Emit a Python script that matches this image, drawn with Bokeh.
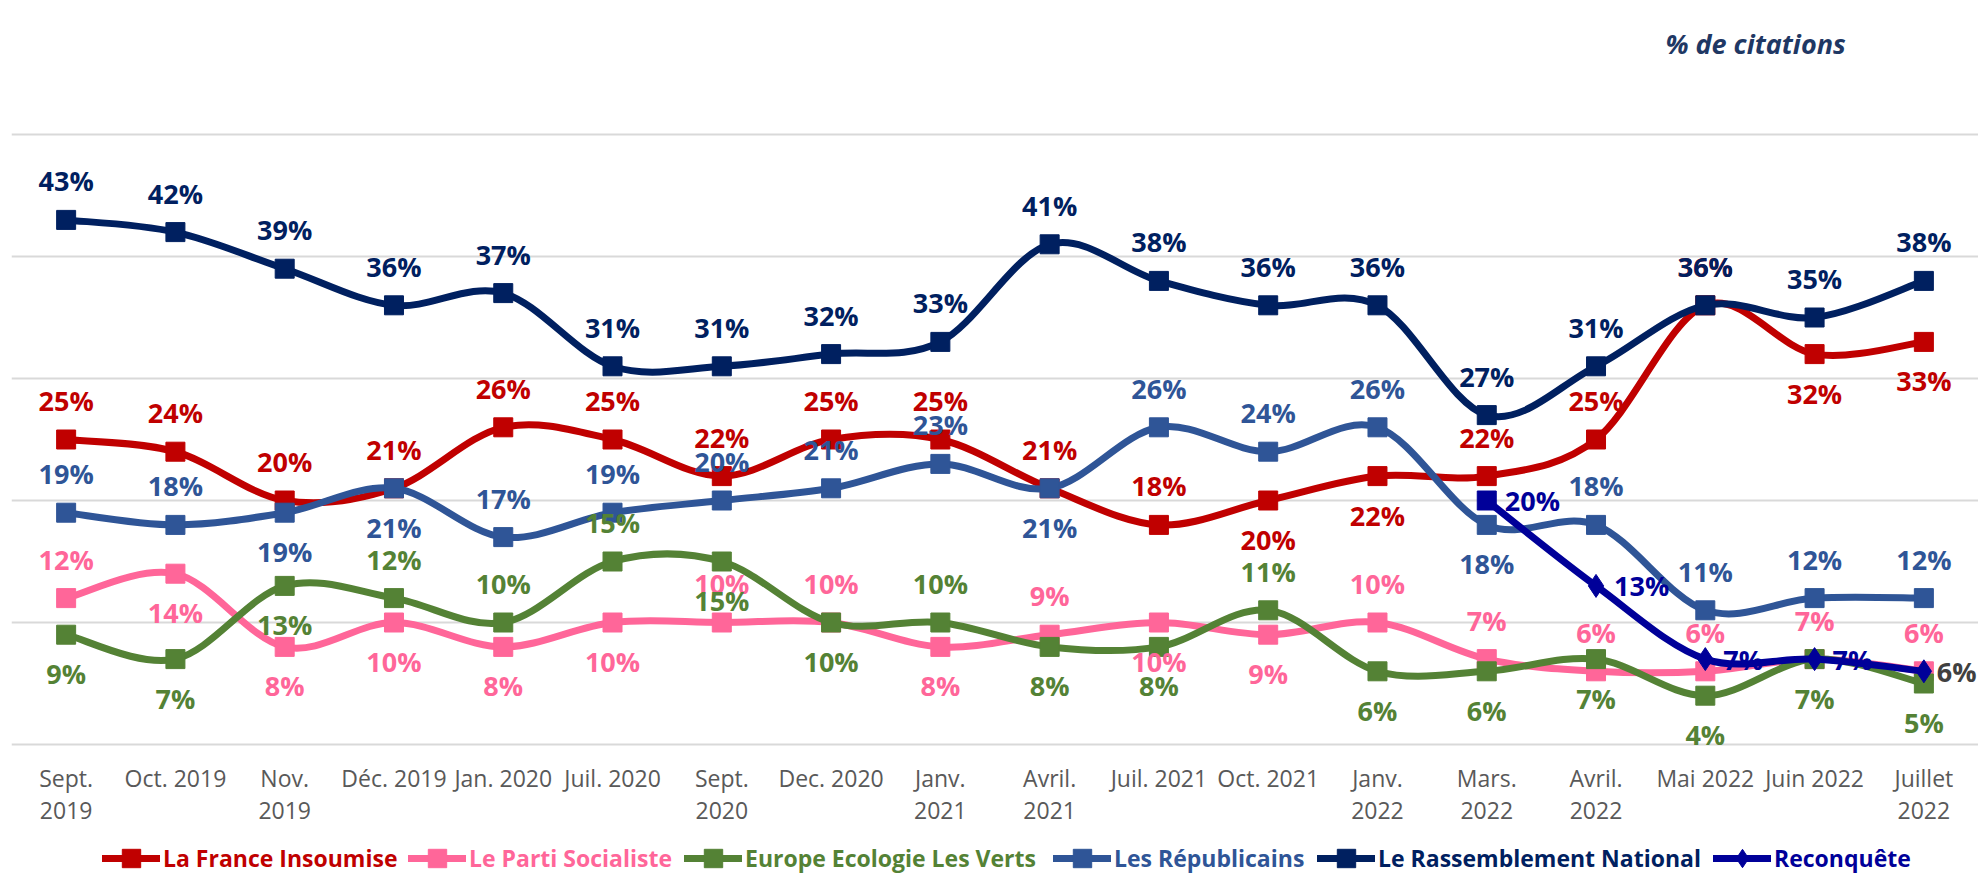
from bokeh.plotting import figure
from bokeh.models import Range1d, FixedTicker, Legend, LegendItem, ColumnDataSource, Label
from bokeh.core.properties import value
from bokeh.embed import file_html
from bokeh.resources import INLINE

# ---------------- data ----------------
months = ["Sept.\n2019", "Oct. 2019", "Nov.\n2019", "Déc. 2019", "Jan. 2020", "Juil. 2020",
          "Sept.\n2020", "Dec. 2020", "Janv.\n2021", "Avril.\n2021", "Juil. 2021", "Oct. 2021",
          "Janv.\n2022", "Mars.\n2022", "Avril.\n2022", "Mai 2022", "Juin 2022", "Juillet\n2022"]

lfi = [25, 24, 20, 21, 26, 25, 22, 25, 25, 21, 18, 20, 22, 22, 25, 36, 32, 33]
ps = [12, 14, 8, 10, 8, 10, 10, 10, 8, 9, 10, 9, 10, 7, 6, 6, 7, 6]
eelv = [9, 7, 13, 12, 10, 15, 15, 10, 10, 8, 8, 11, 6, 6, 7, 4, 7, 5]
lr = [19, 18, 19, 21, 17, 19, 20, 21, 23, 21, 26, 24, 26, 18, 18, 11, 12, 12]
rn = [43, 42, 39, 36, 37, 31, 31, 32, 33, 41, 38, 36, 36, 27, 31, 36, 35, 38]
rec = [20, 13, 7, 7, 6]
rec_start = 13  # first month of Reconquête (Mars 2022)

names = ["La France Insoumise", "Le Parti Socialiste", "Europe Ecologie Les Verts",
         "Les Républicains", "Le Rassemblement National", "Reconquête"]

# label placement (a = above, b = below, r = right)
lfi_pos = list("aaaaaaaaaaabbaaabb")
ps_pos = list("abbbbbaababbaaaaaa")
eelv_pos = list("bbbaaabbabbabbbbbb")
lr_pos = list("aabbaaaaabaaabaaaa")
rn_pos = list("aaaaaaaaaaaaaaaaaa")
rec_pos = list("rrrrr")

# ---------------- style ----------------
FONT = "Open Sans"
colors = ["#C00000", "#FF6699", "#548235", "#2F5597", "#002060", "#000099"]
PX_PER_UNIT = (744 - 12) / 60.0
Y_BOTTOM = -(876 - 744) / PX_PER_UNIT

p = figure(width=1978, height=876, output_backend="svg", toolbar_location=None,
           x_range=Range1d(-0.5, 17.5), y_range=Range1d(Y_BOTTOM, 60),
           x_axis_location=None, y_axis_location=None,
           min_border_left=11, min_border_right=0, min_border_top=12, min_border_bottom=0)
p.outline_line_color = None
p.background_fill_color = "white"
p.border_fill_color = "white"
p.xgrid.visible = False
p.ygrid.ticker = FixedTicker(ticks=[0, 10, 20, 30, 40, 50, 60])
p.ygrid.grid_line_color = "#D9D9D9"
p.ygrid.grid_line_width = 2

idx = list(range(len(months)))

# category labels (x axis)
p.text(x=idx, y=[-17 / PX_PER_UNIT] * len(idx), text=months, text_font=value(FONT),
       text_font_size="23px", text_color="#595959", text_align="center",
       text_baseline="top", text_line_height=1.03)


def bezier_source(xs, ys):
    P = list(zip(xs, ys))
    n = len(P)
    d = dict(x0=[], y0=[], x1=[], y1=[], cx0=[], cy0=[], cx1=[], cy1=[])
    for i in range(n - 1):
        p0 = P[i - 1] if i > 0 else P[i]
        p1 = P[i]
        p2 = P[i + 1]
        p3 = P[i + 2] if i + 2 < n else P[i + 1]
        d["x0"].append(p1[0]); d["y0"].append(p1[1])
        d["x1"].append(p2[0]); d["y1"].append(p2[1])
        d["cx0"].append(p1[0] + (p2[0] - p0[0]) / 6); d["cy0"].append(p1[1] + (p2[1] - p0[1]) / 6)
        d["cx1"].append(p2[0] - (p3[0] - p1[0]) / 6); d["cy1"].append(p2[1] - (p3[1] - p1[1]) / 6)
    return ColumnDataSource(d)


series = [
    (idx, lfi, lfi_pos, colors[0], ["square"] * 18, [colors[0]] * 18),
    (idx, ps, ps_pos, colors[1], ["square"] * 18, [colors[1]] * 18),
    (idx, eelv, eelv_pos, colors[2], ["square"] * 18, [colors[2]] * 18),
    (idx, lr, lr_pos, colors[3], ["square"] * 18, [colors[3]] * 18),
    (idx, rn, rn_pos, colors[4], ["square"] * 18, [colors[4]] * 18),
    (list(range(rec_start, rec_start + len(rec))), rec, rec_pos, colors[5],
     ["square"] + ["diamond"] * (len(rec) - 1), [colors[5]] * 4 + ["#404040"]),
]

legend_renderers = []
for xs, ys, pos, c, marks, lcols in series:
    line_r = p.bezier(x0="x0", y0="y0", x1="x1", y1="y1", cx0="cx0", cy0="cy0",
                      cx1="cx1", cy1="cy1", source=bezier_source(xs, ys),
                      line_color=c, line_width=7, line_cap="round")
    sq = [(x, y) for x, y, m in zip(xs, ys, marks) if m == "square"]
    dm = [(x, y) for x, y, m in zip(xs, ys, marks) if m == "diamond"]
    sq_r = dm_r = None
    if sq:
        sq_r = p.scatter([a for a, b in sq], [b for a, b in sq], marker="square", size=19,
                         fill_color=c, line_color=c)
    if dm:
        dm_r = p.scatter([a for a, b in dm], [b for a, b in dm], marker="diamond", size=23,
                         fill_color=c, line_color=c)
    legend_renderers.append([line_r, dm_r if dm_r is not None else sq_r])

# data labels
for xs, ys, pos, c, marks, lcols in series:
    xo = [18 if q == "r" else 0 for q in pos]
    if pos[0] == "r":
        xo[-1] = 13
    yo = [-39 if q == "a" else (39 if q == "b" else 0) for q in pos]
    src = ColumnDataSource(dict(x=xs, y=ys, t=[f"{v}%" for v in ys], xo=xo, yo=yo, c=lcols))
    p.text(x="x", y="y", text="t", x_offset="xo", y_offset="yo", source=src,
           text_color="c", text_font=value(FONT), text_font_style="bold",
           text_font_size="27px", text_align="left" if pos[0] == "r" else "center",
           text_baseline="middle")

# title-like annotation
p.add_layout(Label(x=15.46, y=57.5, text="% de citations", text_font=FONT,
                   text_font_style="bold italic", text_font_size="27px",
                   text_color="#1F3864", text_align="center", text_baseline="middle"))

# legends (one per series so that each label keeps its series colour)
leg_x = [102, 408, 684, 1053, 1317, 1713]
for name, c, lx, rends in zip(names, colors, leg_x, legend_renderers):
    leg = Legend(items=[LegendItem(label=name, renderers=rends)],
                 location=(lx - 11, -5), orientation="horizontal",
                 padding=0, margin=0, spacing=0, glyph_width=58, glyph_height=46,
                 label_height=46, label_standoff=3, label_text_font=FONT,
                 label_text_font_style="bold", label_text_font_size="23px",
                 label_text_color=c, border_line_color=None, background_fill_alpha=0,
                 label_text_baseline="middle")
    p.add_layout(leg)

open("out.html", "w").write(file_html(p, INLINE))
